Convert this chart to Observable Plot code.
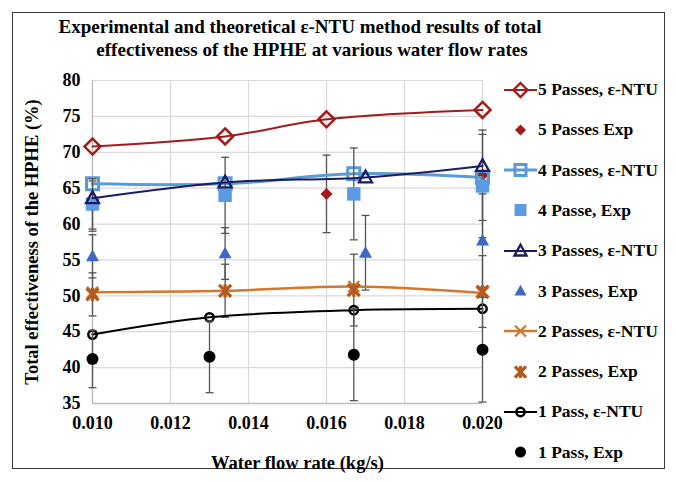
<!DOCTYPE html>
<html>
<head>
<meta charset="utf-8">
<script src="https://cdn.jsdelivr.net/npm/d3@7"></script>
<script src="https://cdn.jsdelivr.net/npm/@observablehq/plot@0.6"></script>
<style>
  html, body { margin: 0; padding: 0; background: #fff; }
  #wrap { position: relative; width: 676px; height: 482px; overflow: hidden; font-family: 'Liberation Serif', 'Times New Roman', serif; }
  #frame { position: absolute; left: 12px; top: 12px; width: 653px; height: 457px; border: 1.5px solid #3a3a3a; box-sizing: border-box; }
  .tline { position: absolute; left: 0; text-align: center; font-weight: bold; font-size: 19px; color: #000; white-space: nowrap; }
  #legend { position: absolute; left: 504px; top: 0; }
  .li { position: absolute; left: 0; height: 20px; display: flex; align-items: center; white-space: nowrap; font-weight: bold; font-size: 17.5px; color: #000; }
  .li svg { flex: none; margin-right: 1px; }
  #chart { position: absolute; left: 0; top: 0; }
</style>
</head>
<body>
<div id="wrap">
  <div id="frame"></div>
  <div class="tline" style="top:16px;width:600px;">Experimental and theoretical ε-NTU method results of total</div>
  <div class="tline" style="top:39px;width:624px;">effectiveness of the HPHE at various water flow rates</div>
  <div id="chart"></div>
  <div id="legend"></div>
</div>
<script>
// ---------- data ----------
const xTicks = [0.010, 0.012, 0.014, 0.016, 0.018, 0.020];
const yTicks = [35, 40, 45, 50, 55, 60, 65, 70, 75, 80];
const xLabel = "Water flow rate (kg/s)";
const yLabel = "Total effectiveness of the HPHE (%)";

const seriesNames = [
  "5 Passes, ε-NTU", "5 Passes Exp",
  "4 Passes, ε-NTU", "4 Passe, Exp",
  "3 Passes, ε-NTU", "3 Passes, Exp",
  "2 Passes, ε-NTU", "2 Passes, Exp",
  "1 Pass, ε-NTU", "1 Pass, Exp"
];

const x5ntu = [0.010, 0.0134, 0.016, 0.020];
const y5ntu = [70.8, 72.2, 74.6, 75.9];
const x5exp = [0.010, 0.016, 0.020];
const y5exp = [62.5, 64.2, 66.8];
const e5exp = [3.5, 5.4, 6.3];

const x4ntu = [0.010, 0.0134, 0.0167, 0.020];
const y4ntu = [65.6, 65.6, 67.0, 66.5];
const x4exp = [0.010, 0.0134, 0.0167, 0.020];
const y4exp = [62.8, 64.0, 64.2, 65.3];
const e4exp = [3.5, 5.3, 6.4, 7.2];

const x3ntu = [0.010, 0.0134, 0.017, 0.020];
const y3ntu = [63.6, 65.8, 66.5, 68.1];
const x3exp = [0.010, 0.0134, 0.017, 0.020];
const y3exp = [55.5, 55.9, 56.0, 57.7];
const e3exp = [3.0, 3.6, 5.2, 6.5];

const x2ntu = [0.010, 0.0134, 0.0167, 0.020];
const y2ntu = [50.5, 50.7, 51.3, 50.4];
const x2exp = [0.010, 0.0134, 0.0167, 0.020];
const y2exp = [50.2, 50.7, 50.8, 50.6];
const e2exp = [3.0, 3.7, 5.0, 5.0];

const x1ntu = [0.010, 0.013, 0.0167, 0.020];
const y1ntu = [44.6, 47.0, 48.0, 48.2];
const x1exp = [0.010, 0.013, 0.0167, 0.020];
const y1exp = [41.2, 41.5, 41.8, 42.5];
const e1exp = [4.0, 5.0, 6.4, 7.3];

// ---------- styles ----------
const C5 = "#a31a1a", C4 = "#5b9bd5", C4f = "#5a9be3", C3 = "#1c1c64", C3f = "#3f67c4",
      C2 = "#d2772f", C2f = "#b45a1e", C1 = "#000000", EB = "#555555";

const rOf = s => Math.sqrt(s / Math.PI);
const diamond = { draw(c, s) { const r = rOf(s); c.moveTo(0, -r); c.lineTo(r, 0); c.lineTo(0, r); c.lineTo(-r, 0); c.closePath(); } };
const square = { draw(c, s) { const r = rOf(s); c.rect(-r, -r, 2 * r, 2 * r); } };
const tri = { draw(c, s) { const r = rOf(s); c.moveTo(0, -r * 1.05); c.lineTo(r, r * 0.75); c.lineTo(-r, r * 0.75); c.closePath(); } };
const cross = { draw(c, s) { const r = rOf(s); c.moveTo(-r, -r); c.lineTo(r, r); c.moveTo(r, -r); c.lineTo(-r, r); } };
const star = { draw(c, s) { const r = rOf(s); c.moveTo(-r, -r); c.lineTo(r, r); c.moveTo(r, -r); c.lineTo(-r, r); c.moveTo(0, -r * 1.1); c.lineTo(0, r * 1.1); } };
const circ = { draw(c, s) { const r = rOf(s); c.moveTo(r, 0); c.arc(0, 0, r, 0, 2 * Math.PI); } };
const cap = { draw(c, s) { const r = rOf(s); c.moveTo(-r, 0); c.lineTo(r, 0); } };

const rows = (xs, ys, es) => xs.map((x, i) => ({ x, y: ys[i], e: es ? es[i] : 0 }));

function ntu(xs, ys, color, lw, sym, r, sw) {
  const d = rows(xs, ys);
  return [
    Plot.line(d, { x: "x", y: "y", stroke: color, strokeWidth: lw, curve: "catmull-rom" }),
    Plot.dot(d, { x: "x", y: "y", symbol: sym, r, stroke: color, strokeWidth: sw, fill: "none" })
  ];
}
function exp(xs, ys, es, color, sym, r, filled, sw) {
  const d = rows(xs, ys, es);
  return [
    Plot.ruleX(d, { x: "x", y1: v => v.y - v.e, y2: v => v.y + v.e, stroke: EB, strokeWidth: 1.3 }),
    Plot.dot(d, { x: "x", y: v => v.y - v.e, symbol: cap, r: 4, stroke: EB, strokeWidth: 1.3 }),
    Plot.dot(d, { x: "x", y: v => v.y + v.e, symbol: cap, r: 4, stroke: EB, strokeWidth: 1.3 }),
    Plot.dot(d, filled
      ? { x: "x", y: "y", symbol: sym, r, fill: color, stroke: "none" }
      : { x: "x", y: "y", symbol: sym, r, stroke: color, strokeWidth: sw, fill: "none" })
  ];
}

const chart = Plot.plot({
  width: 676, height: 482,
  marginLeft: 92, marginRight: 194, marginTop: 80, marginBottom: 79,
  style: { fontFamily: "'Liberation Serif', 'Times New Roman', serif", fontSize: "18px", fontWeight: "bold", color: "#000", background: "transparent", overflow: "visible" },
  x: { domain: [0.010, 0.020] },
  y: { domain: [35, 80] },
  marks: [
    Plot.gridX(xTicks, { stroke: "#d9d9d9", strokeOpacity: 1, strokeWidth: 1.2 }),
    Plot.gridY(yTicks, { stroke: "#d9d9d9", strokeOpacity: 1, strokeWidth: 1.2 }),
    Plot.ruleX([0.010], { stroke: "#bdbdbd", strokeWidth: 1.3 }),
    Plot.ruleY([35], { stroke: "#bdbdbd", strokeWidth: 1.3 }),
    Plot.axisX(xTicks, { tickSize: 0, tickPadding: 13, tickFormat: d3.format(".3f"), label: null, fill: "#000" }),
    Plot.axisY(yTicks, { tickSize: 0, tickPadding: 12, label: null, fill: "#000" }),
    Plot.text([xLabel], { frameAnchor: "bottom", dx: 10, dy: 65, fontSize: 18.5, fill: "#000" }),
    Plot.text([yLabel], { frameAnchor: "left", textAnchor: "middle", rotate: -90, dx: -60, dy: 0, fontSize: 18.5, fill: "#000" }),
    ...ntu(x5ntu, y5ntu, C5, 2, diamond, 8, 2.5),
    ...exp(x5exp, y5exp, e5exp, C5, diamond, 6, true),
    ...ntu(x4ntu, y4ntu, C4, 3, square, 6, 3),
    ...exp(x4exp, y4exp, e4exp, C4f, square, 6.7, true),
    ...ntu(x3ntu, y3ntu, C3, 2, tri, 6.5, 2.3),
    ...exp(x3exp, y3exp, e3exp, C3f, tri, 6.5, true),
    ...ntu(x2ntu, y2ntu, C2, 2.5, cross, 5.5, 2.3),
    ...exp(x2exp, y2exp, e2exp, C2f, star, 6, false, 3.2),
    ...ntu(x1ntu, y1ntu, C1, 2, circ, 4.2, 2.5),
    ...exp(x1exp, y1exp, e1exp, C1, circ, 6, true)
  ]
});
document.getElementById("chart").appendChild(chart);

// ---------- legend ----------
const legendSpec = [
  { line: C5, lw: 2, sym: diamond, r: 7, stroke: C5, sw: 2.3 },
  { sym: diamond, r: 5.5, fill: C5 },
  { line: C4, lw: 3, sym: square, r: 5.5, stroke: C4, sw: 3 },
  { sym: square, r: 6, fill: C4f },
  { line: C3, lw: 2, sym: tri, r: 6, stroke: C3, sw: 2.3 },
  { sym: tri, r: 6, fill: C3f },
  { line: C2, lw: 2.5, sym: cross, r: 5.5, stroke: C2, sw: 2.3 },
  { sym: star, r: 5.5, stroke: C2f, sw: 3.2 },
  { line: C1, lw: 2, sym: circ, r: 4.2, stroke: C1, sw: 2.5 },
  { sym: circ, r: 5.5, fill: C1 }
];
const leg = document.getElementById("legend");
legendSpec.forEach((s, i) => {
  const p = d3.path();
  s.sym.draw(p, s.r * s.r * Math.PI);
  const item = document.createElement("div");
  item.className = "li";
  item.style.top = (79.5 + i * 40.3) + "px";
  item.innerHTML =
    `<svg width="33" height="20" viewBox="-16.5 -10 33 20">` +
    (s.line ? `<line x1="-16.5" x2="16.5" y1="0" y2="0" stroke="${s.line}" stroke-width="${s.lw}"/>` : "") +
    `<path d="${p.toString()}" fill="${s.fill || "none"}" stroke="${s.stroke || "none"}" stroke-width="${s.sw || 0}"/></svg>` +
    `<span>${seriesNames[i]}</span>`;
  leg.appendChild(item);
});
</script>
</body>
</html>
